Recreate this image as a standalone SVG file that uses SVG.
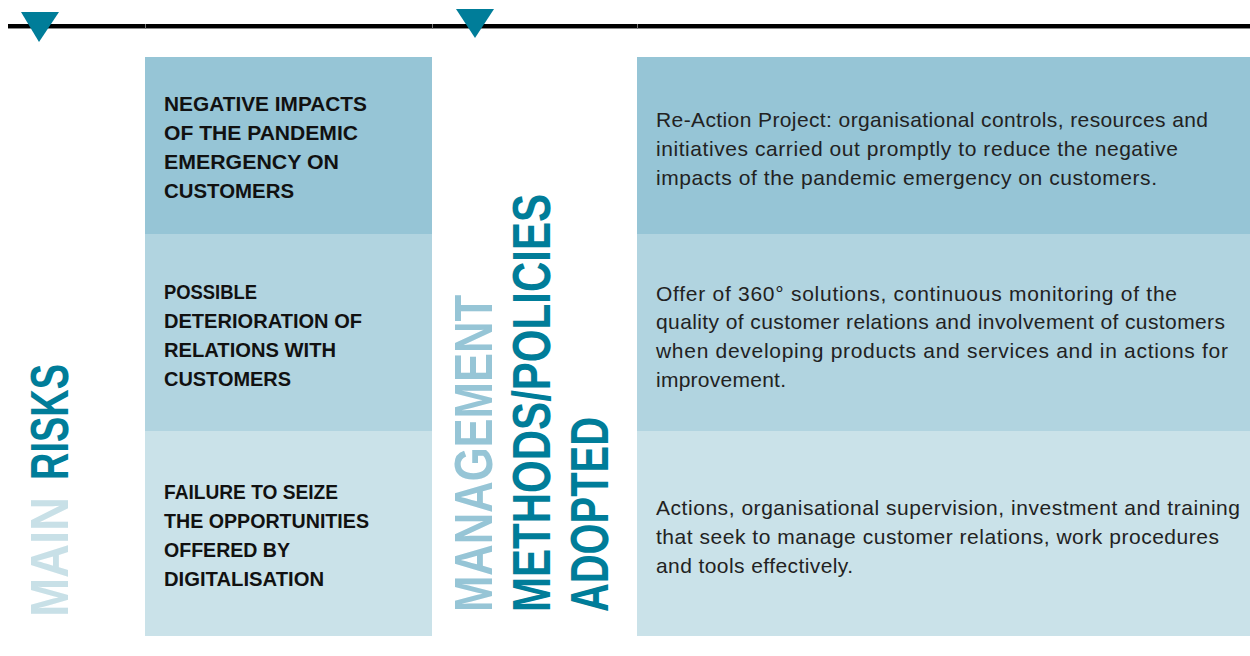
<svg xmlns="http://www.w3.org/2000/svg" width="1250" height="656" viewBox="0 0 1250 656">
<style>
.r1{fill:#96c5d6}.r2{fill:#b1d4e0}.r3{fill:#cae2e9}
.h{font-family:"Liberation Sans",Arial,sans-serif;font-weight:bold;font-size:20.5px;fill:#111}
.b{font-family:"Liberation Sans",Arial,sans-serif;font-size:21px;fill:#222}
.v{font-family:"Liberation Sans",Arial,sans-serif;font-weight:bold;font-size:53px}
.tri{fill:#007d99}
</style>
<rect width="1250" height="656" fill="#ffffff"/>
<g id="topline">
<rect x="8" y="24" width="1242" height="4" fill="#000"/>
<rect x="8" y="28" width="1242" height="1" fill="#8a8a8a"/>
<rect x="145" y="24" width="1" height="5" fill="#777"/>
<rect x="432" y="24" width="1" height="5" fill="#777"/>
<rect x="637" y="24" width="1" height="5" fill="#777"/>
<polygon class="tri" points="21,12 59,12 39,42"/>
<polygon class="tri" points="456,9 494,9 475,38"/>
</g>
<g id="title-risks">
<text class="v" fill="#c8e0e7" transform="translate(68,617) rotate(-90)" textLength="120" lengthAdjust="spacingAndGlyphs">MAIN</text>
<text class="v" fill="#007d99" transform="translate(68,480) rotate(-90)" textLength="116" lengthAdjust="spacingAndGlyphs">RISKS</text>
</g>
<g id="title-management">
<text class="v" fill="#96c5d6" transform="translate(492,612) rotate(-90)" textLength="317" lengthAdjust="spacingAndGlyphs">MANAGEMENT</text>
<text class="v" fill="#007d99" transform="translate(550,612) rotate(-90)" textLength="418" lengthAdjust="spacingAndGlyphs">METHODS/POLICIES</text>
<text class="v" fill="#007d99" transform="translate(608,612) rotate(-90)" textLength="195" lengthAdjust="spacingAndGlyphs">ADOPTED</text>
</g>
<g id="risk1">
<rect class="r1" x="145" y="57" width="287" height="177"/>
<text class="h" x="164" y="111" textLength="203" lengthAdjust="spacingAndGlyphs">NEGATIVE IMPACTS</text>
<text class="h" x="164" y="140" textLength="194" lengthAdjust="spacingAndGlyphs">OF THE PANDEMIC</text>
<text class="h" x="164" y="169" textLength="175" lengthAdjust="spacingAndGlyphs">EMERGENCY ON</text>
<text class="h" x="164" y="198" textLength="130" lengthAdjust="spacingAndGlyphs">CUSTOMERS</text>
</g>
<g id="risk2">
<rect class="r2" x="145" y="234" width="287" height="197"/>
<text class="h" x="164" y="299" textLength="93" lengthAdjust="spacingAndGlyphs">POSSIBLE</text>
<text class="h" x="164" y="328" textLength="198" lengthAdjust="spacingAndGlyphs">DETERIORATION OF</text>
<text class="h" x="164" y="357" textLength="172" lengthAdjust="spacingAndGlyphs">RELATIONS WITH</text>
<text class="h" x="164" y="386" textLength="127" lengthAdjust="spacingAndGlyphs">CUSTOMERS</text>
</g>
<g id="risk3">
<rect class="r3" x="145" y="431" width="287" height="205"/>
<text class="h" x="164" y="499" textLength="174" lengthAdjust="spacingAndGlyphs">FAILURE TO SEIZE</text>
<text class="h" x="164" y="528" textLength="205" lengthAdjust="spacingAndGlyphs">THE OPPORTUNITIES</text>
<text class="h" x="164" y="557" textLength="126" lengthAdjust="spacingAndGlyphs">OFFERED BY</text>
<text class="h" x="164" y="586" textLength="160" lengthAdjust="spacingAndGlyphs">DIGITALISATION</text>
</g>
<g id="method1">
<rect class="r1" x="637" y="57" width="613" height="177"/>
<text class="b" x="656" y="127" textLength="552">Re-Action Project: organisational controls, resources and</text>
<text class="b" x="656" y="156" textLength="522">initiatives carried out promptly to reduce the negative</text>
<text class="b" x="656" y="185" textLength="501">impacts of the pandemic emergency on customers.</text>
</g>
<g id="method2">
<rect class="r2" x="637" y="234" width="613" height="197"/>
<text class="b" x="656" y="301" textLength="521">Offer of 360° solutions, continuous monitoring of the</text>
<text class="b" x="656" y="329" textLength="569">quality of customer relations and involvement of customers</text>
<text class="b" x="656" y="358" textLength="572">when developing products and services and in actions for</text>
<text class="b" x="656" y="387" textLength="130">improvement.</text>
</g>
<g id="method3">
<rect class="r3" x="637" y="431" width="613" height="205"/>
<text class="b" x="656" y="515" textLength="584">Actions, organisational supervision, investment and training</text>
<text class="b" x="656" y="544" textLength="563">that seek to manage customer relations, work procedures</text>
<text class="b" x="656" y="573" textLength="197">and tools effectively.</text>
</g>
</svg>
